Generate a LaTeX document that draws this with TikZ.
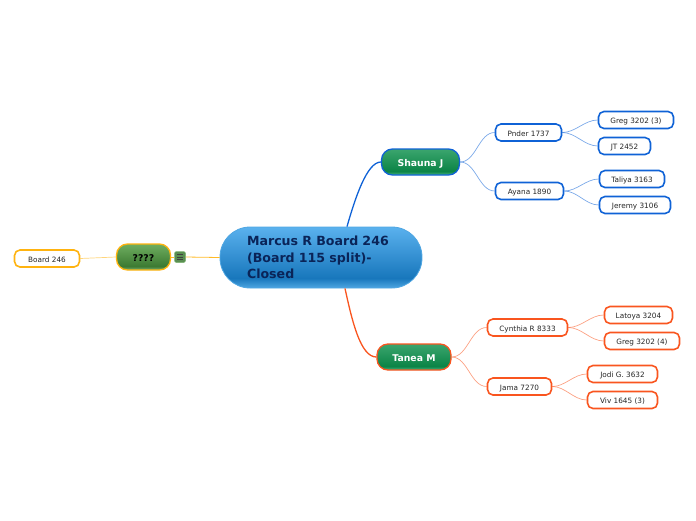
\documentclass[tikz,border=0pt]{standalone}
\usepackage{fontspec}
\setmainfont{DejaVu Sans}
\definecolor{branchblue}{HTML}{0F62D6}
\definecolor{branchred}{HTML}{F9551F}
\definecolor{branchgold}{HTML}{FFB30F}
\definecolor{rootink}{HTML}{0A2458}
\definecolor{rootlow}{HTML}{4FA6E2}
\definecolor{rootmid}{HTML}{1877BC}
\definecolor{roottop}{HTML}{5AB1EE}
\definecolor{greenlow}{HTML}{4DB583}
\definecolor{greenmid}{HTML}{0B8446}
\definecolor{greentop}{HTML}{3BA56E}
\definecolor{olivelow}{HTML}{7FB574}
\definecolor{olivemid}{HTML}{3C7A32}
\definecolor{olivetop}{HTML}{6FAE60}
\pgfdeclareverticalshading{rootshade}{100bp}{color(0bp)=(rootlow); color(25bp)=(rootlow); color(33bp)=(rootmid); color(75bp)=(roottop); color(100bp)=(roottop)}
\pgfdeclareverticalshading{greenshade}{100bp}{color(0bp)=(greenlow); color(25bp)=(greenlow); color(32bp)=(greenmid); color(75bp)=(greentop); color(100bp)=(greentop)}
\pgfdeclareverticalshading{oliveshade}{100bp}{color(0bp)=(olivelow); color(25bp)=(olivelow); color(32bp)=(olivemid); color(75bp)=(olivetop); color(100bp)=(olivetop)}
\tikzset{
    rootnode/.style={shade, shading=rootshade, draw=rootlow, line width=0.8pt, rounded corners=30pt, minimum width=202pt, minimum height=61pt, inner sep=0pt, text width=148pt, align=left, text=rootink, font=\bfseries\fontsize{12.6}{15.9}\selectfont},
    mainnode/.style={shade, shading=greenshade, line width=1.3pt, rounded corners=11pt, minimum height=26pt, inner sep=0pt, text height=9pt, text depth=0pt, text=white, font=\bfseries\fontsize{9.3}{11}\selectfont},
    leafnode/.style={fill=white, line width=1.6pt, rounded corners=5.5pt, minimum height=17pt, inner sep=0pt, text height=7.5pt, text depth=0pt, text=black!85, font=\fontsize{7.3}{9}\selectfont},
    thinlink/.style={line width=0.7pt, opacity=0.55},
    goldlink/.style={draw=branchgold, line width=0.8pt, opacity=0.9},
    swing/.style={out=0, in=180, looseness=0.9}
}
\begin{document}
\begin{tikzpicture}[x=1pt, y=-1pt]
    \useasboundingbox (0,0) rectangle (696,520);

    % centre and main branches
    \node[rootnode] (root) at (321,257.5) {\vspace{1pt}Marcus R Board 246\\(Board 115 split)-\\Closed};
    \node[mainnode, draw=branchblue, minimum width=78pt] (shauna) at (420.5,162) {Shauna J};
    \node[mainnode, draw=branchred, minimum width=74pt] (tanea) at (414,357) {Tanea M};
    \node[mainnode, shading=oliveshade, draw=branchgold, minimum width=54pt, text=black] (unknown) at (143.5,257) {????};
    \node[fill=olivemid!85, draw=olivelow, line width=0.5pt, rounded corners=2pt, minimum width=11pt, minimum height=11pt, inner sep=0pt] (toggle) at (180,257) {};
    \draw[black!75, line width=0.6pt] ([xshift=-3pt,yshift=2.5pt]toggle.center) -- ([xshift=3pt,yshift=2.5pt]toggle.center);
    \draw[black!75, line width=0.6pt] ([xshift=-3pt]toggle.center) -- ([xshift=3pt]toggle.center);
    \draw[black!75, line width=0.6pt] ([xshift=-3pt,yshift=-2.5pt]toggle.center) -- ([xshift=3pt,yshift=-2.5pt]toggle.center);

    % leaves, blue side
    \node[leafnode, draw=branchblue, minimum width=66pt] (pnder) at (528.5,132.5) {Pnder 1737};
    \node[leafnode, draw=branchblue, minimum width=68pt] (ayana) at (529.5,191) {Ayana 1890};
    \node[leafnode, draw=branchblue, minimum width=75pt] (gregthree) at (636,120) {Greg 3202 (3)};
    \node[leafnode, draw=branchblue, minimum width=52pt] (jt) at (624.5,146) {JT 2452};
    \node[leafnode, draw=branchblue, minimum width=65pt] (taliya) at (632,179) {Taliya 3163};
    \node[leafnode, draw=branchblue, minimum width=71pt] (jeremy) at (635,205) {Jeremy 3106};

    % leaves, red side
    \node[leafnode, draw=branchred, minimum width=80pt] (cynthia) at (527.5,327.5) {Cynthia R 8333};
    \node[leafnode, draw=branchred, minimum width=64pt] (jama) at (519.5,386.5) {Jama 7270};
    \node[leafnode, draw=branchred, minimum width=68pt] (latoya) at (638.5,315) {Latoya 3204};
    \node[leafnode, draw=branchred, minimum width=75pt] (gregfour) at (642,341) {Greg 3202 (4)};
    \node[leafnode, draw=branchred, minimum width=70pt] (jodi) at (622.5,374) {Jodi G. 3632};
    \node[leafnode, draw=branchred, minimum width=70pt] (viv) at (622.5,400) {Viv 1645 (3)};

    % leaf, gold side
    \node[leafnode, draw=branchgold, minimum width=65pt] (board) at (47,258.5) {Board 246};

    % links
    \draw[branchblue, line width=1.3pt] ([xshift=26pt]root.north) .. controls +(8,-28) and +(-14,0) .. (shauna.west);
    \draw[branchred, line width=1.3pt] ([xshift=24pt]root.south) .. controls +(7,32) and +(-16,0) .. (tanea.west);
    \draw[goldlink] (root.west) -- (toggle.east);
    \draw[goldlink] (toggle.west) -- (unknown.east);
    \draw[branchgold, thinlink] (unknown.west) -- (board.east);

    \draw[branchblue, thinlink] (shauna.east) to[swing] (pnder.west);
    \draw[branchblue, thinlink] (shauna.east) to[swing] (ayana.west);
    \draw[branchblue, thinlink] (pnder.east) to[swing] (gregthree.west);
    \draw[branchblue, thinlink] (pnder.east) to[swing] (jt.west);
    \draw[branchblue, thinlink] (ayana.east) to[swing] (taliya.west);
    \draw[branchblue, thinlink] (ayana.east) to[swing] (jeremy.west);

    \draw[branchred, thinlink] (tanea.east) to[swing] (cynthia.west);
    \draw[branchred, thinlink] (tanea.east) to[swing] (jama.west);
    \draw[branchred, thinlink] (cynthia.east) to[swing] (latoya.west);
    \draw[branchred, thinlink] (cynthia.east) to[swing] (gregfour.west);
    \draw[branchred, thinlink] (jama.east) to[swing] (jodi.west);
    \draw[branchred, thinlink] (jama.east) to[swing] (viv.west);
\end{tikzpicture}
\end{document}
